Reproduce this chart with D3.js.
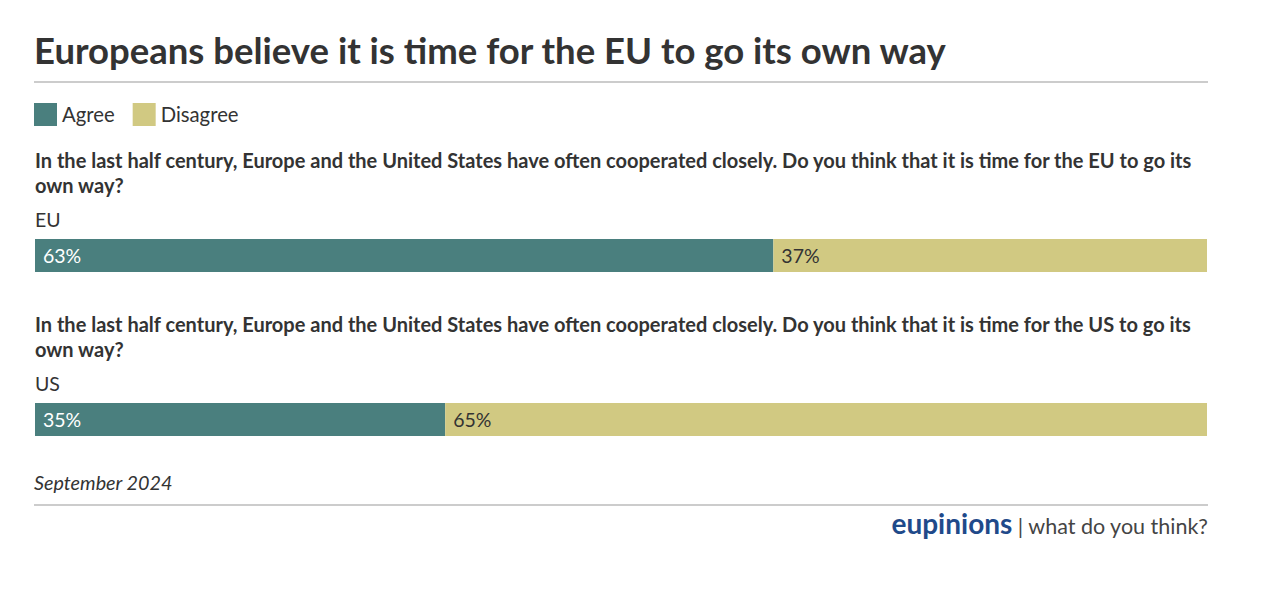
<!DOCTYPE html>
<html>
<head>
<meta charset="utf-8">
<script src="https://cdn.jsdelivr.net/npm/d3@7"></script>
<style>
  body { margin: 0; background: #fff; }
  svg { font-family: Lato, "Open Sans", sans-serif; }
</style>
</head>
<body>
<svg id="chart" width="1264" height="612"></svg>
<script>
const title = "Europeans believe it is time for the EU to go its own way";
const seriesNames = ["Agree", "Disagree"];
const seriesColors = ["#4a7f7e", "#d1c982"];
const categories = ["EU", "US"];
const questions = [
  "In the last half century, Europe and the United States have often cooperated closely. Do you think that it is time for the EU to go its own way?",
  "In the last half century, Europe and the United States have often cooperated closely. Do you think that it is time for the US to go its own way?"
];
const agree = [63, 35];
const disagree = [37, 65];
const dateNote = "September 2024";
const brand = "eupinions";
const tagline = "| what do you think?";

const svg = d3.select("#chart");
const left = 35, right = 1207;

// Title
svg.append("text").attr("x", 34).attr("y", 64)
  .attr("font-size", 36.5).attr("font-weight", 700).attr("fill", "#333")
  .text(title);
svg.append("line").attr("x1", 34).attr("x2", 1208).attr("y1", 82).attr("y2", 82)
  .attr("stroke", "#999").attr("stroke-width", 1.2);

// Legend
const legend = svg.append("g").attr("transform", "translate(34,103)");
let lx = 0;
seriesNames.forEach((name, i) => {
  const g = legend.append("g").attr("transform", `translate(${lx},0)`);
  g.append("rect").attr("width", 23).attr("height", 23).attr("fill", seriesColors[i]);
  const t = g.append("text").attr("x", 28).attr("y", 18.5).attr("font-size", 20.3).attr("fill", "#333").text(name);
  lx += 28 + t.node().getComputedTextLength() + 18;
});

const x = d3.scaleLinear().domain([0, 100]).range([left, right]);
const blockTops = [149, 313];

function wrap(textSel, str, width, lineH) {
  const words = str.split(" ");
  let line = [];
  let tspan = textSel.append("tspan").attr("x", textSel.attr("x")).attr("dy", 0);
  words.forEach(w => {
    line.push(w);
    tspan.text(line.join(" "));
    if (tspan.node().getComputedTextLength() > width && line.length > 1) {
      line.pop();
      tspan.text(line.join(" "));
      line = [w];
      tspan = textSel.append("tspan").attr("x", textSel.attr("x")).attr("dy", lineH).text(w);
    }
  });
}

categories.forEach((cat, i) => {
  const top = blockTops[i];
  const q = svg.append("text").attr("x", 35).attr("y", top + 19)
    .attr("font-size", 20).attr("font-weight", 700).attr("fill", "#333");
  wrap(q, questions[i], right - left, 25);
  svg.append("text").attr("x", 35).attr("y", top + 78)
    .attr("font-size", 19.5).attr("fill", "#333").text(cat);

  const barY = top + 90, barH = 33;
  const segs = [
    { v0: 0, v1: agree[i], val: agree[i], color: seriesColors[0], tc: "#fff" },
    { v0: agree[i], v1: agree[i] + disagree[i], val: disagree[i], color: seriesColors[1], tc: "#333" }
  ];
  const g = svg.append("g");
  g.selectAll("rect").data(segs).join("rect")
    .attr("x", d => x(d.v0)).attr("y", barY)
    .attr("width", d => x(d.v1) - x(d.v0)).attr("height", barH)
    .attr("fill", d => d.color);
  g.selectAll("text").data(segs).join("text")
    .attr("x", d => x(d.v0) + 8).attr("y", barY + barH / 2 + 7)
    .attr("font-size", 19.5).attr("fill", d => d.tc)
    .text(d => d.val + "%");
});

// Footer
svg.append("text").attr("x", 34).attr("y", 490)
  .attr("font-size", 19.8).attr("font-style", "italic").attr("fill", "#333").text(dateNote);
svg.append("line").attr("x1", 34).attr("x2", 1208).attr("y1", 505).attr("y2", 505)
  .attr("stroke", "#999").attr("stroke-width", 1.2);
const ft = svg.append("text").attr("x", 1208).attr("y", 534).attr("text-anchor", "end");
ft.append("tspan").attr("font-size", 28).attr("font-weight", 700).attr("fill", "#1f4a8a").text(brand);
ft.append("tspan").attr("font-size", 21.5).attr("fill", "#444").text("  " + tagline);
</script>
</body>
</html>
